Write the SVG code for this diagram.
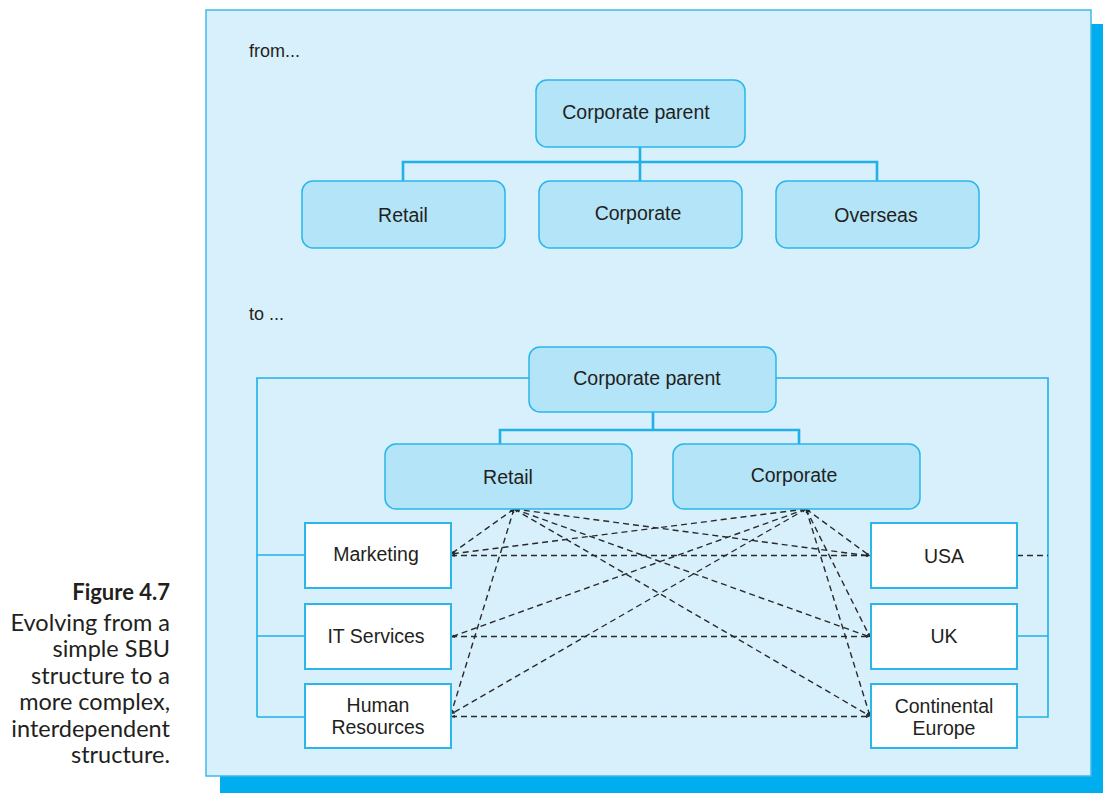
<svg xmlns="http://www.w3.org/2000/svg" width="1103" height="793" viewBox="0 0 1103 793">
<defs>
<style>
.node{fill:#b3e4f8;stroke:#2ab6ea;stroke-width:1.5}
.box{fill:#ffffff;stroke:#2ab6ea;stroke-width:2}
.t{font-family:"Liberation Sans",Arial,sans-serif;font-size:19.5px;fill:#231f20;text-anchor:middle}
.lab{font-family:"Liberation Sans",Arial,sans-serif;font-size:18px;fill:#231f20}
.tree{fill:none;stroke:#1fb1e8;stroke-width:2.6}
.br{fill:none;stroke:#1fb1e8;stroke-width:1.6}
.d{fill:none;stroke:#2a2a2a;stroke-width:1.4;stroke-dasharray:6 4}
.cap{font-family:Lato,"Open Sans",sans-serif;font-size:23.5px;fill:#231f20;text-anchor:end}
</style>
<marker id="ah" viewBox="0 0 10 10" refX="10" refY="5" markerWidth="4" markerHeight="4" orient="auto-start-reverse" markerUnits="userSpaceOnUse">
<path d="M0,1 L10,5 L0,9 z" fill="#2a2a2a"/>
</marker>
</defs>
<rect x="220" y="24" width="883" height="769" fill="#00aeef"/>
<rect x="206" y="10" width="885" height="766" fill="#d8f0fb" stroke="#3dbbe9" stroke-width="1.5"/>
<text class="lab" x="249" y="57">from...</text>
<text class="lab" x="249" y="320">to ...</text>
<g id="connectors">
<path class="tree" d="M640,147 V162 M403,181 V162 H877 V181 M640,162 V181"/>
<path class="tree" d="M653,412 V430 M500,445 V430 H799 V445"/>
<path class="br" d="M529,378 H257 V717 M257,555 H305 M257,636 H305 M257,717 H305"/>
<path class="br" d="M776,378 H1048 V717 H1017 M1048,636 H1017"/>
<path class="d" d="M1017,555.5 H1048"/>
<g marker-end="url(#ah)" marker-start="url(#ah)">
<path class="d" d="M451,555.5 H870"/>
<path class="d" d="M451,636.5 H870"/>
<path class="d" d="M451,716.5 H870"/>
<path class="d" d="M514,509 L451,554"/>
<path class="d" d="M514,509 L451,714"/>
<path class="d" d="M514,509 L870,556"/>
<path class="d" d="M514,509 L870,637"/>
<path class="d" d="M514,509 L870,716"/>
<path class="d" d="M806,509 L451,554"/>
<path class="d" d="M806,509 L451,637"/>
<path class="d" d="M806,509 L451,714"/>
<path class="d" d="M806,509 L870,556"/>
<path class="d" d="M806,509 L870,637"/>
<path class="d" d="M806,509 L870,716"/>
</g>
</g>
<g id="top-parent"><rect class="node" x="536" y="80" width="209" height="67" rx="11"/><text class="t" x="636" y="119">Corporate parent</text></g>
<g id="top-retail"><rect class="node" x="302" y="181" width="203" height="67" rx="11"/><text class="t" x="403" y="222">Retail</text></g>
<g id="top-corporate"><rect class="node" x="539" y="181" width="203" height="67" rx="11"/><text class="t" x="638" y="220">Corporate</text></g>
<g id="top-overseas"><rect class="node" x="776" y="181" width="203" height="67" rx="11"/><text class="t" x="876" y="222">Overseas</text></g>
<g id="parent"><rect class="node" x="529" y="347" width="247" height="65" rx="11"/><text class="t" x="647" y="385">Corporate parent</text></g>
<g id="retail"><rect class="node" x="385" y="444" width="247" height="65" rx="11"/><text class="t" x="508" y="484">Retail</text></g>
<g id="corporate"><rect class="node" x="673" y="444" width="247" height="65" rx="11"/><text class="t" x="794" y="482">Corporate</text></g>
<g id="marketing"><rect class="box" x="305" y="523" width="146" height="65"/><text class="t" x="376" y="561">Marketing</text></g>
<g id="it"><rect class="box" x="305" y="604" width="146" height="65"/><text class="t" x="376" y="643">IT Services</text></g>
<g id="hr"><rect class="box" x="305" y="684" width="146" height="64"/><text class="t" x="378" y="712">Human</text><text class="t" x="378" y="734">Resources</text></g>
<g id="usa"><rect class="box" x="871" y="523" width="146" height="65"/><text class="t" x="944" y="563">USA</text></g>
<g id="uk"><rect class="box" x="871" y="604" width="146" height="65"/><text class="t" x="944" y="643">UK</text></g>
<g id="europe"><rect class="box" x="871" y="684" width="146" height="64"/><text class="t" x="944" y="713">Continental</text><text class="t" x="944" y="735">Europe</text></g>
<g id="caption">
<text class="cap" x="170" y="600" font-weight="bold" style="font-size:22px">Figure 4.7</text>
<text class="cap" x="170" y="631">Evolving from a</text>
<text class="cap" x="170" y="657">simple SBU</text>
<text class="cap" x="170" y="684">structure to a</text>
<text class="cap" x="170" y="710">more complex,</text>
<text class="cap" x="170" y="737">interdependent</text>
<text class="cap" x="170" y="763">structure.</text>
</g>
</svg>
